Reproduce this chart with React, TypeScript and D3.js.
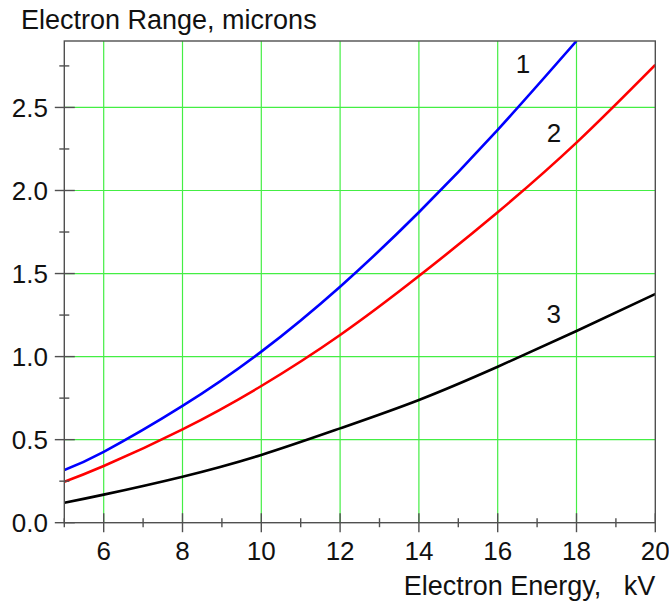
import React from "react";
import * as d3 from "d3";

const energyKV = [5, 6, 8, 10, 12, 14, 16, 18, 20];
const range1 = [0.317, 0.427, 0.703, 1.03, 1.421, 1.869, 2.365, 2.9, null];
const range2 = [0.247, 0.341, 0.562, 0.823, 1.13, 1.485, 1.869, 2.288, 2.756];
const range3 = [0.12, 0.169, 0.277, 0.408, 0.568, 0.739, 0.939, 1.154, 1.377];
const xMajorTicks = [6, 8, 10, 12, 14, 16, 18, 20];
const xMinorTicks = [5, 7, 9, 11, 13, 15, 17, 19];
const yMajorTicks = [0, 0.5, 1.0, 1.5, 2.0, 2.5];
const yMinorTicks = [0.25, 0.75, 1.25, 1.75, 2.25, 2.75];
const curveLabels = [
  { text: "1", x: 16.64, y: 2.71 },
  { text: "2", x: 17.43, y: 2.29 },
  { text: "3", x: 17.42, y: 1.2 },
];

const W = 669;
const H = 606;
const L = 64.3;
const R = 655.3;
const T = 41;
const B = 522.7;

export default function App() {
  const x = d3.scaleLinear().domain([5, 20]).range([L, R]);
  const y = d3.scaleLinear().domain([0, 2.9]).range([B, T]);
  const series = [
    { vals: range1, color: "#0000ff" },
    { vals: range2, color: "#ff0000" },
    { vals: range3, color: "#000000" },
  ];
  const line = d3
    .line<[number, number | null]>()
    .defined((d) => d[1] != null)
    .x((d) => x(d[0]))
    .y((d) => y(d[1] as number))
    .curve(d3.curveNatural);
  const axisColor = "#505050";
  const grid = "#44ee44";
  const font = "'Liberation Sans', Arial, sans-serif";
  return (
    <svg
      width={W}
      height={H}
      style={{ position: "absolute", left: 0, top: 0, background: "#fff" }}
      fontFamily={font}
    >
      <defs>
        <clipPath id="plot">
          <rect x={L} y={T} width={R - L} height={B - T} />
        </clipPath>
      </defs>
      <rect width={W} height={H} fill="#fff" />
      {xMajorTicks.filter((v) => v < 20).map((v) => (
        <line key={"gx" + v} x1={x(v)} x2={x(v)} y1={T} y2={B} stroke={grid} strokeWidth={1.2} />
      ))}
      {yMajorTicks.filter((v) => v > 0).map((v) => (
        <line key={"gy" + v} x1={L} x2={R} y1={y(v)} y2={y(v)} stroke={grid} strokeWidth={1.2} />
      ))}
      <g clipPath="url(#plot)">
        {series.map((s, i) => (
          <path
            key={i}
            d={line(energyKV.map((e, j) => [e, s.vals[j]]) as any) || ""}
            fill="none"
            stroke={s.color}
            strokeWidth={2.6}
          />
        ))}
      </g>
      <rect x={L} y={T} width={R - L} height={B - T} fill="none" stroke={axisColor} strokeWidth={1.4} />
      {xMajorTicks.map((v) => (
        <line key={"tx" + v} x1={x(v)} x2={x(v)} y1={B - 9.5} y2={B + 9.5} stroke={axisColor} strokeWidth={1.4} />
      ))}
      {xMinorTicks.map((v) => (
        <line key={"mx" + v} x1={x(v)} x2={x(v)} y1={B - 4.5} y2={B + 4.5} stroke={axisColor} strokeWidth={1.4} />
      ))}
      {yMajorTicks.map((v) => (
        <line key={"ty" + v} x1={L - 9.5} x2={L + 10.5} y1={y(v)} y2={y(v)} stroke={axisColor} strokeWidth={1.4} />
      ))}
      {yMinorTicks.map((v) => (
        <line key={"my" + v} x1={L - 5} x2={L + 5} y1={y(v)} y2={y(v)} stroke={axisColor} strokeWidth={1.4} />
      ))}
      {yMajorTicks.map((v) => (
        <text key={"ly" + v} x={48} y={y(v) + 9.3} textAnchor="end" fontSize={26} fill="#111">
          {v.toFixed(1)}
        </text>
      ))}
      {xMajorTicks.map((v) => (
        <text key={"lx" + v} x={x(v)} y={559.5} textAnchor="middle" fontSize={26} fill="#111">
          {v}
        </text>
      ))}
      <text x={21} y={28.5} fontSize={27} fill="#111">
        Electron Range, microns
      </text>
      <text x={R} y={594.5} textAnchor="end" fontSize={27} fill="#111" style={{ whiteSpace: "pre" }}>
        {"Electron Energy,   kV"}
      </text>
      {curveLabels.map((c) => (
        <text key={c.text} x={x(c.x)} y={y(c.y)} textAnchor="middle" fontSize={26} fill="#111">
          {c.text}
        </text>
      ))}
    </svg>
  );
}
